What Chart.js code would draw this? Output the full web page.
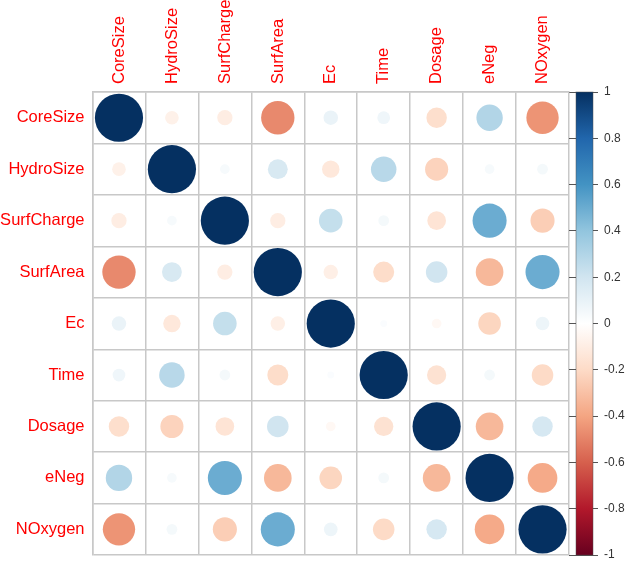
<!DOCTYPE html>
<html lang="en">
<head>
    <meta charset="UTF-8">
    <title>Correlation Plot</title>
    <script src="https://cdn.jsdelivr.net/npm/chart.js"></script>
    <style>
        html, body { margin: 0; padding: 0; background: #ffffff; }
        #wrap { width: 627px; height: 573px; }
    </style>
</head>
<body>
    <div id="wrap"><canvas id="corrChart" width="627" height="573"></canvas></div>

    <script>
        // variable names (columns and rows)
        var vars = ['CoreSize', 'HydroSize', 'SurfCharge', 'SurfArea', 'Ec', 'Time', 'Dosage', 'eNeg', 'NOxygen'];

        // correlation matrix, one row per variable
        var rowCoreSize   = [ 1.00, -0.08, -0.10, -0.48,  0.09,  0.07, -0.18,  0.30, -0.45];
        var rowHydroSize  = [-0.08,  1.00,  0.04,  0.17, -0.13,  0.28, -0.23,  0.04,  0.05];
        var rowSurfCharge = [-0.10,  0.04,  1.00, -0.10,  0.24,  0.05, -0.15,  0.50, -0.25];
        var rowSurfArea   = [-0.48,  0.17, -0.10,  1.00, -0.09, -0.19,  0.20, -0.33,  0.50];
        var rowEc         = [ 0.09, -0.13,  0.24, -0.09,  1.00,  0.02, -0.04, -0.22,  0.08];
        var rowTime       = [ 0.07,  0.28,  0.05, -0.19,  0.02,  1.00, -0.16,  0.05, -0.20];
        var rowDosage     = [-0.18, -0.23, -0.15,  0.20, -0.04, -0.16,  1.00, -0.33,  0.18];
        var rowENeg       = [ 0.30,  0.04,  0.50, -0.33, -0.22,  0.05, -0.33,  1.00, -0.38];
        var rowNOxygen    = [-0.45,  0.05, -0.25,  0.50,  0.08, -0.20,  0.18, -0.38,  1.00];
        var corrRows = [rowCoreSize, rowHydroSize, rowSurfCharge, rowSurfArea, rowEc, rowTime, rowDosage, rowENeg, rowNOxygen];

        // colour bar ticks
        var barTicks = [-1, -0.8, -0.6, -0.4, -0.2, 0, 0.2, 0.4, 0.6, 0.8, 1];

        // RdBu palette from -1 to 1
        var palette = ['#67001F', '#B2182B', '#D6604D', '#F4A582', '#FDDBC7', '#FFFFFF',
                       '#D1E5F0', '#92C5DE', '#4393C3', '#2166AC', '#053061'];

        function hexToRgb(h) {
            return [parseInt(h.substr(1, 2), 16), parseInt(h.substr(3, 2), 16), parseInt(h.substr(5, 2), 16)];
        }

        function colorFor(v) {
            var t = (v + 1) / 2 * (palette.length - 1);
            var i = Math.min(Math.floor(t), palette.length - 2);
            var f = t - i;
            var a = hexToRgb(palette[i]), b = hexToRgb(palette[i + 1]);
            var c = a.map(function (x, k) { return Math.round(x + (b[k] - x) * f); });
            return 'rgb(' + c.join(',') + ')';
        }

        // build the points
        var points = [];
        corrRows.forEach(function (row, i) {
            row.forEach(function (v, j) {
                points.push({ x: j, y: i, v: v });
            });
        });

        var gridColor = '#c8c8c8';
        var labelFont = { family: '"Liberation Sans", Arial, sans-serif', size: 16.5 };

        // colour bar drawn next to the 'cb' scale
        var colorBarPlugin = {
            id: 'colorBar',
            afterDraw: function (chart) {
                var s = chart.scales.cb;
                var ctx = chart.ctx;
                var top = s.getPixelForValue(1), bottom = s.getPixelForValue(-1);
                var x0 = s.left + 7, w = 17;
                var g = ctx.createLinearGradient(0, bottom, 0, top);
                palette.forEach(function (c, k) { g.addColorStop(k / (palette.length - 1), c); });
                ctx.save();
                ctx.fillStyle = g;
                ctx.fillRect(x0, top, w, bottom - top);
                ctx.strokeStyle = 'rgba(80,80,80,0.6)';
                ctx.lineWidth = 0.8;
                ctx.strokeRect(x0, top, w, bottom - top);
                ctx.restore();
            }
        };

        function cellSize(chart) {
            var sx = chart.scales.x;
            if (!sx || !chart.chartArea) return 0;
            var d = Math.abs(sx.getPixelForValue(1) - sx.getPixelForValue(0));
            return isFinite(d) ? d : 0;
        }

        var corrChart = new Chart(document.getElementById('corrChart'), {
            type: 'scatter',
            data: {
                datasets: [{
                    data: points,
                    pointBorderWidth: 0,
                    pointRadius: function (c) {
                        if (!c.raw) return 0;
                        return cellSize(c.chart) * 0.455 * Math.sqrt(Math.abs(c.raw.v));
                    },
                    pointBackgroundColor: function (c) {
                        return c.raw ? colorFor(c.raw.v) : '#fff';
                    }
                }]
            },
            options: {
                responsive: false,
                animation: false,
                events: [],
                layout: { autoPadding: false, padding: { left: 0, top: 0, right: 0, bottom: 6 } },
                plugins: { legend: { display: false }, tooltip: { enabled: false } },
                scales: {
                    x: {
                        type: 'linear',
                        position: 'top',
                        min: -0.5,
                        max: 8.5,
                        afterBuildTicks: function (s) {
                            s.ticks = vars.map(function (n, k) { return { value: k }; });
                        },
                        afterFit: function (s) { s.height = 92; },
                        grid: { offset: true, color: gridColor, lineWidth: 1.5, drawTicks: false },
                        border: { color: gridColor, width: 1.5 },
                        ticks: {
                            autoSkip: false,
                            maxRotation: 90,
                            minRotation: 90,
                            padding: 8,
                            labelOffset: 20,
                            color: '#ff0000',
                            font: labelFont,
                            callback: function (value) { return vars[value]; }
                        }
                    },
                    y: {
                        type: 'linear',
                        position: 'left',
                        reverse: true,
                        min: -0.5,
                        max: 8.5,
                        afterBuildTicks: function (s) {
                            s.ticks = vars.map(function (n, k) { return { value: k }; });
                        },
                        afterFit: function (s) { s.width = 92.5; },
                        grid: { offset: true, color: gridColor, lineWidth: 1.5, drawTicks: false },
                        border: { color: gridColor, width: 1.5 },
                        ticks: {
                            autoSkip: false,
                            padding: 8,
                            color: '#ff0000',
                            font: labelFont,
                            callback: function (value) { return vars[value]; }
                        }
                    },
                    cb: {
                        type: 'linear',
                        position: 'right',
                        min: -1,
                        max: 1,
                        afterBuildTicks: function (s) {
                            s.ticks = barTicks.map(function (v) { return { value: v }; });
                        },
                        afterFit: function (s) { s.width = 58; },
                        grid: { drawOnChartArea: false, drawTicks: true, tickLength: 29, color: '#555', lineWidth: 1 },
                        border: { display: false },
                        ticks: {
                            padding: 6,
                            color: '#333',
                            font: { family: '"Liberation Sans", Arial, sans-serif', size: 12 },
                            callback: function (value) { return String(Math.round(value * 10) / 10); }
                        }
                    }
                }
            },
            plugins: [colorBarPlugin]
        });
    </script>
</body>
</html>
